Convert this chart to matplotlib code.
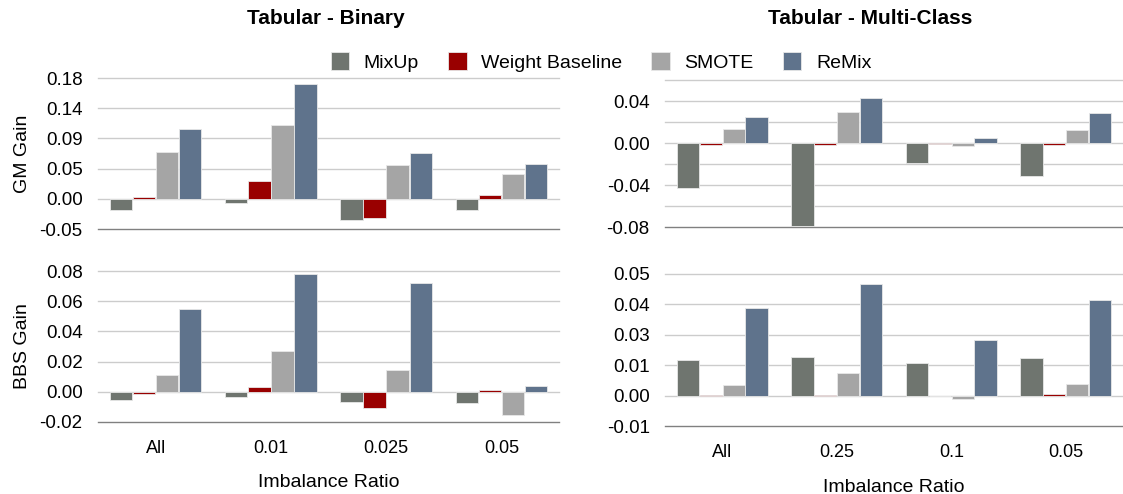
import numpy as np
import matplotlib
matplotlib.use("Agg")
import matplotlib.pyplot as plt

plt.rcParams['font.family'] = ['Liberation Sans', 'DejaVu Sans']

methods = ["MixUp", "Weight Baseline", "SMOTE", "ReMix"]
colors = ["#6f756f", "#990000", "#a5a5a5", "#5f738c"]

bin_cats = ["All", "0.01", "0.025", "0.05"]
multi_cats = ["All", "0.25", "0.1", "0.05"]

# Tabular - Binary, GM gain
bin_gm = {
	"MixUp": [-0.0173, -0.0064, -0.031, -0.0168],
	"Weight Baseline": [0.0025, 0.0272, -0.0287, 0.005],
	"SMOTE": [0.070, 0.110, 0.050, 0.0376],
	"ReMix": [0.1034, 0.171, 0.0678, 0.0515],
}
# Tabular - Binary, BBS gain
bin_bbs = {
	"MixUp": [-0.0057, -0.0035, -0.0068, -0.0075],
	"Weight Baseline": [-0.0015, 0.0035, -0.0104, 0.001],
	"SMOTE": [0.0108, 0.0267, 0.0143, -0.0154],
	"ReMix": [0.0551, 0.0778, 0.0723, 0.0037],
}
# Tabular - Multi-Class, GM gain
multi_gm = {
	"MixUp": [-0.0432, -0.0787, -0.0187, -0.031],
	"Weight Baseline": [-0.0015, -0.002, -0.001, -0.0015],
	"SMOTE": [0.0133, 0.0295, -0.0025, 0.0124],
	"ReMix": [0.0248, 0.0425, 0.0044, 0.0282],
}
# Tabular - Multi-Class, BBS gain
multi_bbs = {
	"MixUp": [0.0147, 0.0159, 0.0132, 0.0153],
	"Weight Baseline": [0.0001, 0.0004, -0.0003, 0.0007],
	"SMOTE": [0.0044, 0.0093, -0.0015, 0.0048],
	"ReMix": [0.0361, 0.046, 0.0227, 0.0394],
}

W, H = 1123, 494
fig = plt.figure(figsize=(W / 100, H / 100), dpi=100)


def px_axes(x0, x1, y0, y1):
	return fig.add_axes([x0 / W, 1 - y1 / H, (x1 - x0) / W, (y1 - y0) / H])


def draw(ax, cats, data, ticks, labels, ylim, show_x):
	x = np.arange(len(cats))
	bw = 0.2
	for i, m in enumerate(methods):
		ax.bar(x + (i - 1.5) * bw, data[m], bw * 0.97, color=colors[i],
			edgecolor="#e8e8e8", linewidth=0.6, zorder=3, label=m)
	ax.set_xlim(-0.5, len(cats) - 0.5)
	ax.set_ylim(*ylim)
	ax.set_yticks(ticks)
	ax.set_yticklabels(labels)
	for t in ticks[1:]:
		ax.axhline(t, color="#cccccc", lw=1, zorder=1, clip_on=False)
	for s in ["top", "right", "left"]:
		ax.spines[s].set_visible(False)
	ax.spines["bottom"].set_color("#808080")
	ax.spines["bottom"].set_linewidth(1)
	ax.tick_params(axis="y", length=0, pad=11, labelsize=13.5)
	ax.tick_params(axis="x", length=0, pad=13, labelsize=13)
	ax.set_xticks(x)
	if show_x:
		ax.set_xticklabels(cats)
	else:
		ax.set_xticklabels([])


ax1 = px_axes(98, 559, 78, 229)
draw(ax1, bin_cats, bin_gm, [-0.045, 0, 0.045, 0.09, 0.135, 0.18],
	["-0.05", "0.00", "0.05", "0.09", "0.14", "0.18"], (-0.045, 0.18), False)
ax1.set_ylabel("GM Gain", fontsize=14, labelpad=6)

ax2 = px_axes(98, 559, 271, 422)
draw(ax2, bin_cats, bin_bbs, [-0.02, 0, 0.02, 0.04, 0.06, 0.08],
	["-0.02", "0.00", "0.02", "0.04", "0.06", "0.08"], (-0.02, 0.08), True)
ax2.set_ylabel("BBS Gain", fontsize=14, labelpad=6)
ax2.set_xlabel("Imbalance Ratio", fontsize=14, labelpad=12)

ax3 = px_axes(665, 1123, 80, 227)
draw(ax3, multi_cats, multi_gm, [-0.08, -0.06, -0.04, -0.02, 0, 0.02, 0.04, 0.06],
	["-0.08", "", "-0.04", "", "0.00", "", "0.04", ""], (-0.08, 0.06), False)

ax4 = px_axes(665, 1123, 274, 426)
draw(ax4, multi_cats, multi_bbs, [-0.0125, 0, 0.0125, 0.025, 0.0375, 0.05],
	["-0.01", "0.00", "0.01", "0.03", "0.04", "0.05"], (-0.0125, 0.05), True)
ax4.set_xlabel("Imbalance Ratio", fontsize=14, labelpad=13)

fig.text(326 / W, 1 - 18 / H, "Tabular - Binary", ha="center", va="center",
	fontsize=15, fontweight="bold")
fig.text(870 / W, 1 - 18 / H, "Tabular - Multi-Class", ha="center", va="center",
	fontsize=15, fontweight="bold")

handles, lbls = ax1.get_legend_handles_labels()
fig.legend(handles, lbls, loc="center", bbox_to_anchor=(601 / W, 1 - 62 / H),
	ncol=4, frameon=False, fontsize=14, handlelength=0.95, handleheight=1.0,
	columnspacing=1.5, handletextpad=0.75)

plt.savefig("out.png", dpi=100)
